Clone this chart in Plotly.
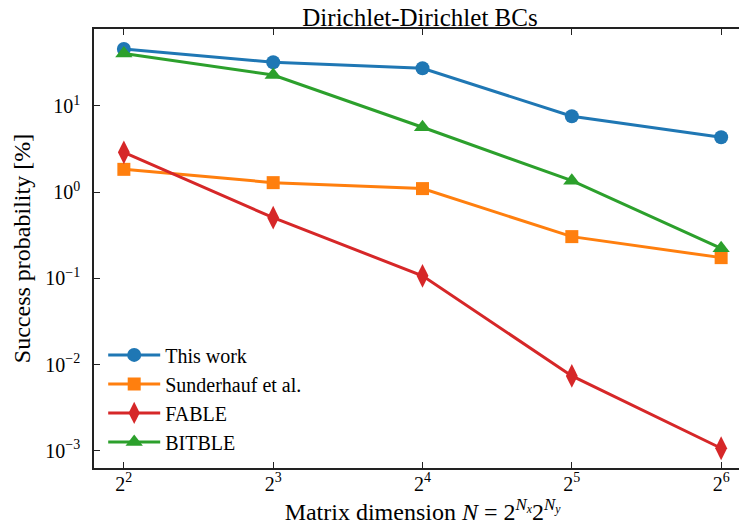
import math
import plotly.graph_objects as go

# ---- data ----
exponents = [2, 3, 4, 5, 6]
matrix_dim = [2 ** e for e in exponents]
x_ticktext = ["2<sup>%d</sup>" % e for e in exponents]

this_work = [45.8, 32.1, 27.4, 7.6, 4.33]
sunderhauf = [1.84, 1.29, 1.10, 0.305, 0.174]
fable = [2.90, 0.506, 0.107, 0.00738, 0.00107]
bitble = [40.6, 22.9, 5.66, 1.36, 0.223]

y_tickvals = [1e-3, 1e-2, 1e-1, 1e0, 1e1]
y_ticktext = ["10<sup>\u22123</sup>", "10<sup>\u22122</sup>", "10<sup>\u22121</sup>",
              "10<sup>0</sup>", "10<sup>1</sup>"]

series = [
    ("This work", this_work, "#1f77b4", "circle", 14),
    ("Sunderhauf et al.", sunderhauf, "#ff7f0e", "square", 13),
    ("FABLE", fable, "#d62728", "diamond-tall", 17),
    ("BITBLE", bitble, "#2ca02c", "triangle-up", 15),
]

FONT = '"Liberation Serif", "Times New Roman", serif'

fig = go.Figure()
for name, vals, col, sym, size in series:
    fig.add_trace(go.Scatter(
        x=matrix_dim, y=vals, name=name, mode="lines+markers",
        line=dict(color=col, width=3),
        marker=dict(symbol=sym, size=size, color=col, line=dict(width=0)),
    ))

log2 = math.log10(2)
fig.update_layout(
    width=747, height=526,
    margin=dict(l=86, r=4, t=21, b=66, autoexpand=False),
    paper_bgcolor="white", plot_bgcolor="white",
    font=dict(family=FONT, size=20, color="black"),
    title=dict(text="Dirichlet-Dirichlet BCs", x=412 / 747, xanchor="center",
               y=1.0, yanchor="top", yref="container", pad=dict(t=0, b=0),
               font=dict(family=FONT, size=25, color="black")),
    showlegend=True,
    legend=dict(x=0.014, y=0.302, xanchor="left", yanchor="top",
                bgcolor="rgba(255,255,255,0)", borderwidth=0,
                font=dict(family=FONT, size=20, color="black"),
                itemwidth=52, tracegroupgap=0),
    xaxis=dict(
        type="log", range=[1.8 * log2, 6.2 * log2], automargin=False,
        tickvals=matrix_dim, ticktext=x_ticktext,
        ticks="inside", ticklen=6, tickwidth=1.3, tickcolor="#222",
        showline=True, linecolor="#222", linewidth=1.6, mirror="ticks",
        showgrid=False, zeroline=False, ticklabelstandoff=-3,
        tickfont=dict(family=FONT, size=20, color="black"),
        title=dict(text="Matrix dimension <i>N</i> = 2<sup><i>N<sub>x</sub></i></sup>2<sup><i>N<sub>y</sub></i></sup>",
                   font=dict(family=FONT, size=24, color="black"), standoff=0),
    ),
    yaxis=dict(
        type="log", range=[-3.200, 1.893], automargin=False,
        tickvals=y_tickvals, ticktext=y_ticktext,
        ticks="inside", ticklen=6, tickwidth=1.3, tickcolor="#222",
        showline=True, linecolor="#222", linewidth=1.6, mirror="ticks",
        showgrid=False, zeroline=False, ticklabelstandoff=8,
        tickfont=dict(family=FONT, size=20, color="black"),
        title=dict(text="Success probability [%]",
                   font=dict(family=FONT, size=24, color="black"), standoff=8),
    ),
)

fig.write_html("out.html")
